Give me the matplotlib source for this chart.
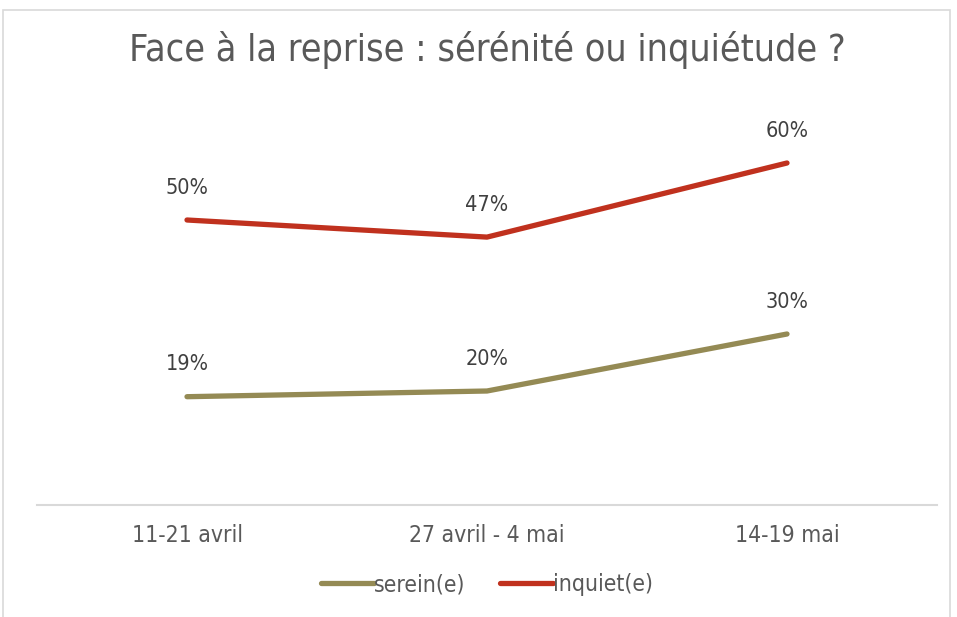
import matplotlib.pyplot as plt
from matplotlib.patches import Rectangle

periods = ["11-21 avril", "27 avril - 4 mai", "14-19 mai"]
serein = [19, 20, 30]
inquiet = [50, 47, 60]

TEXT = "#595959"
plt.rcParams['font.family'] = ['DejaVu Sans']
plt.rcParams['font.stretch'] = 'condensed'

fig = plt.figure(figsize=(9.57, 6.17), dpi=100)
ax = fig.add_axes([37 / 957, 112 / 617, 900 / 957, 399 / 617])

x = range(len(periods))
ax.plot(x, serein, color="#948A54", lw=3.8, solid_capstyle="round", label="serein(e)")
ax.plot(x, inquiet, color="#C0311E", lw=3.8, solid_capstyle="round", label="inquiet(e)")

for series in (serein, inquiet):
    for i, v in enumerate(series):
        ax.annotate(f"{v}%", (i, v), xytext=(0, 16), textcoords="offset points",
                    ha="center", va="bottom", fontsize=15.5, color="#404040")

ax.set_xlim(-0.5, 2.5)
ax.set_ylim(0, 70)
ax.set_xticks(list(x))
ax.set_xticklabels(periods, fontsize=16.5, color=TEXT)
ax.tick_params(axis="x", length=0, pad=14)
ax.set_yticks([])
for side in ("left", "right", "top"):
    ax.spines[side].set_visible(False)
ax.spines["bottom"].set_color("#D9D9D9")
ax.spines["bottom"].set_linewidth(1.5)

fig.text(0.509, 1 - 50 / 617, "Face à la reprise : sérénité ou inquiétude ?",
         ha="center", va="center", fontsize=27, color=TEXT)

fig.legend(loc="center", bbox_to_anchor=(0.509, 1 - 585 / 617), ncol=2, frameon=False,
           fontsize=16.5, labelcolor=TEXT, handlelength=2.3, handletextpad=0.0,
           columnspacing=1.5)

# light frame round the chart area
fig.add_artist(Rectangle((3 / 957, -0.05), 947 / 957, 1.05 - 10 / 617,
                         transform=fig.transFigure, fill=False,
                         edgecolor="#D9D9D9", lw=1.2))

fig.savefig("out.png", dpi=100)
